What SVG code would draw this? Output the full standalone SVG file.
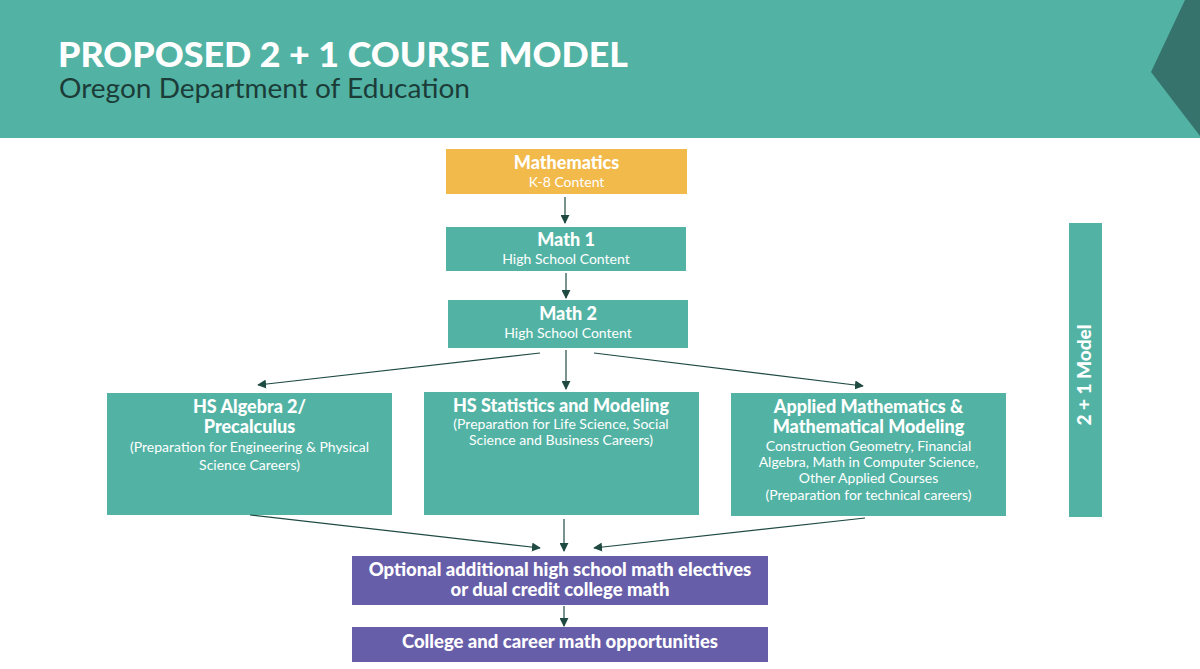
<svg xmlns="http://www.w3.org/2000/svg" width="1200" height="669" viewBox="0 0 1200 669">
<defs>
<marker id="ah" viewBox="0 0 10 10" refX="9" refY="5" markerWidth="9" markerHeight="9" markerUnits="userSpaceOnUse" orient="auto">
<path d="M0,0 L10,5 L0,10 z" fill="#1E4A42"/>
</marker>
<style>
.teal{fill:#52B3A4}
.orange{fill:#F2B94B}
.purple{fill:#675EAA}
.t{font-family:Lato,"Noto Sans","Liberation Sans",sans-serif;fill:#ffffff;text-anchor:middle}
.b{font-weight:900;font-size:18px}
.r{font-weight:400;font-size:14px}
.pb{font-weight:900;font-size:18.5px}
.conn line{stroke:#1E4A42;stroke-width:1.2;fill:none;marker-end:url(#ah)}
</style>
</defs>
<rect width="1200" height="669" fill="#ffffff"/>
<g id="header">
<rect x="0" y="0" width="1200" height="138" class="teal"/>
<polygon points="1185,0 1200,0 1200,136 1151,72" fill="#35736C"/>
<text x="58" y="67" font-family="Lato,'Noto Sans','Liberation Sans',sans-serif" font-weight="900" font-size="35" fill="#ffffff" textLength="570" lengthAdjust="spacingAndGlyphs">PROPOSED 2 + 1 COURSE MODEL</text>
<text x="59" y="98" font-family="Lato,'Noto Sans','Liberation Sans',sans-serif" font-weight="400" font-size="26" fill="#1C3C38" textLength="411" lengthAdjust="spacingAndGlyphs">Oregon Department of Education</text>
</g>
<g id="k8">
<rect x="446" y="149" width="241" height="45" class="orange"/>
<text x="566.5" y="169" class="t b">Mathematics</text>
<text x="566.5" y="187" class="t r">K-8 Content</text>
</g>
<g id="math1">
<rect x="446" y="227" width="240" height="44" class="teal"/>
<text x="566" y="246" class="t b">Math 1</text>
<text x="566" y="264" class="t r">High School Content</text>
</g>
<g id="math2">
<rect x="448" y="300" width="240" height="48" class="teal"/>
<text x="568" y="320" class="t b">Math 2</text>
<text x="568" y="338" class="t r">High School Content</text>
</g>
<g id="algebra">
<rect x="107" y="393" width="285" height="122" class="teal"/>
<text x="249.5" y="413" class="t b">HS Algebra 2/</text>
<text x="249.5" y="433" class="t b">Precalculus</text>
<text x="249.5" y="452" class="t r">(Preparation for Engineering &amp; Physical</text>
<text x="249.5" y="470" class="t r">Science Careers)</text>
</g>
<g id="statistics">
<rect x="424" y="392" width="275" height="123" class="teal"/>
<text x="561" y="412" class="t b">HS Statistics and Modeling</text>
<text x="561" y="429" class="t r">(Preparation for Life Science, Social</text>
<text x="561" y="445" class="t r">Science and Business Careers)</text>
</g>
<g id="applied">
<rect x="731" y="393" width="275" height="123" class="teal"/>
<text x="868.5" y="413" class="t b">Applied Mathematics &amp;</text>
<text x="868.5" y="433" class="t b">Mathematical Modeling</text>
<text x="868.5" y="451" class="t r">Construction Geometry, Financial</text>
<text x="868.5" y="467" class="t r">Algebra, Math in Computer Science,</text>
<text x="868.5" y="483" class="t r">Other Applied Courses</text>
<text x="868.5" y="500" class="t r">(Preparation for technical careers)</text>
</g>
<g id="electives">
<rect x="352" y="556" width="416" height="49" class="purple"/>
<text x="560" y="576" class="t pb">Optional additional high school math electives</text>
<text x="560" y="596" class="t pb">or dual credit college math</text>
</g>
<g id="college">
<rect x="352" y="627" width="416" height="35" class="purple"/>
<text x="560" y="648" class="t pb">College and career math opportunities</text>
</g>
<g id="model-bar">
<rect x="1069" y="223" width="33" height="294" class="teal"/>
<text x="0" y="0" transform="translate(1091,375) rotate(-90)" class="t" font-weight="900" font-size="19">2 + 1 Model</text>
</g>
<g id="connectors" class="conn">
<line x1="565" y1="197" x2="565" y2="223"/>
<line x1="566" y1="273" x2="566" y2="298"/>
<line x1="540" y1="353" x2="258" y2="385"/>
<line x1="566" y1="350" x2="566" y2="389"/>
<line x1="594" y1="353" x2="863" y2="386"/>
<line x1="250" y1="515" x2="540" y2="548"/>
<line x1="564" y1="519" x2="564" y2="551"/>
<line x1="865" y1="518" x2="594" y2="548"/>
<line x1="564" y1="606" x2="564" y2="626"/>
</g>
</svg>
